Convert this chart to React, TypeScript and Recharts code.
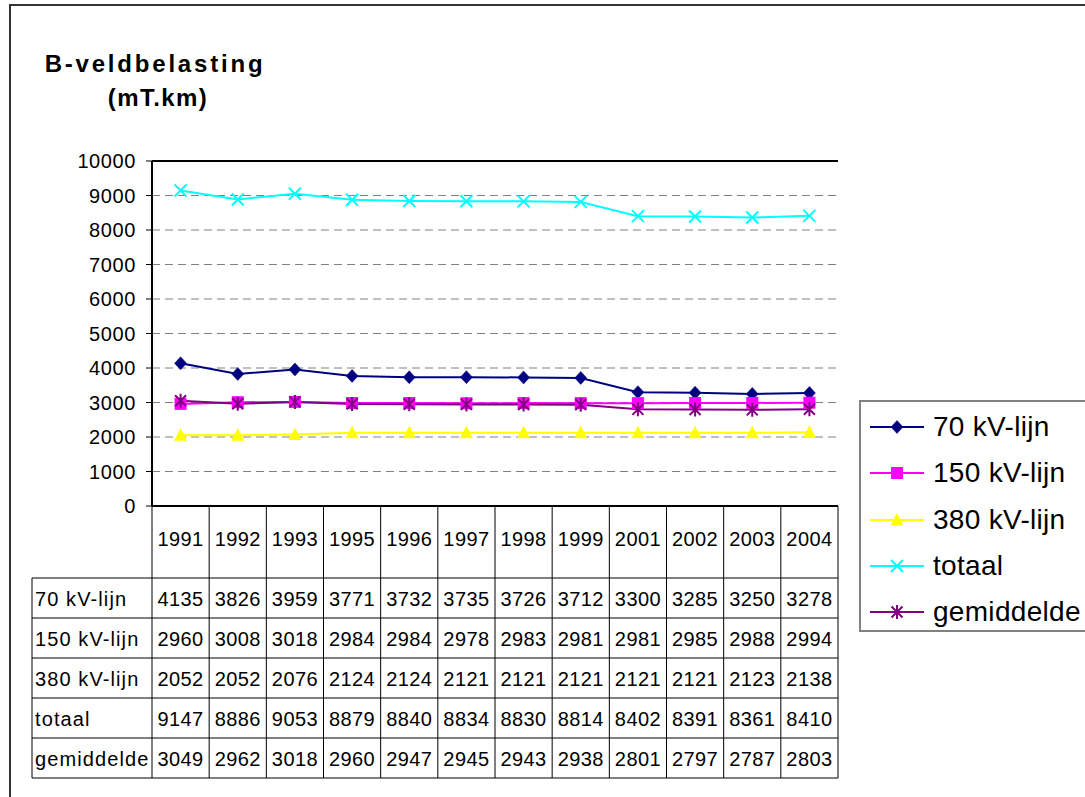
import React from 'react';
import { LineChart, Line, XAxis, YAxis, CartesianGrid, Legend, ReferenceLine } from 'recharts';

// ---------- data ----------
const years = ['1991', '1992', '1993', '1995', '1996', '1997', '1998', '1999', '2001', '2002', '2003', '2004'];
const kv70 = [4135, 3826, 3959, 3771, 3732, 3735, 3726, 3712, 3300, 3285, 3250, 3278];
const kv150 = [2960, 3008, 3018, 2984, 2984, 2978, 2983, 2981, 2981, 2985, 2988, 2994];
const kv380 = [2052, 2052, 2076, 2124, 2124, 2121, 2121, 2121, 2121, 2121, 2123, 2138];
const totaal = [9147, 8886, 9053, 8879, 8840, 8834, 8830, 8814, 8402, 8391, 8361, 8410];
const gemiddelde = [3049, 2962, 3018, 2960, 2947, 2945, 2943, 2938, 2801, 2797, 2787, 2803];
const yTicks = [0, 1000, 2000, 3000, 4000, 5000, 6000, 7000, 8000, 9000, 10000];

const seriesKeys = ['kv70', 'kv150', 'kv380', 'totaal', 'gemiddelde'];
const seriesNames = ['70 kV-lijn', '150 kV-lijn', '380 kV-lijn', 'totaal', 'gemiddelde'];
const seriesColors = ['#000080', '#FF00FF', '#FFFF00', '#00FFFF', '#800080'];
const seriesValues = [kv70, kv150, kv380, totaal, gemiddelde];

const titleLine1 = 'B-veldbelasting';
const titleLine2 = '(mT.km)';

const data = years.map((year, i) => {
  const row: any = { year };
  seriesKeys.forEach((k, s) => {
    row[k] = seriesValues[s][i];
  });
  return row;
});

// ---------- layout ----------
const W = 1085;
const H = 797;
const FONT = "'Liberation Sans', Arial, Helvetica, sans-serif";
const PLOT_LEFT = 152;
const PLOT_RIGHT = 838;
const PLOT_TOP = 161;
const PLOT_BOTTOM = 506;
const Y_AXIS_W = 60;
const COL_W = (PLOT_RIGHT - PLOT_LEFT) / years.length;
const HEADER_H = 72;
const ROW_H = 40;
const TABLE_LEFT = 32;
const TABLE_BOTTOM = PLOT_BOTTOM + HEADER_H + ROW_H * seriesKeys.length;

function marker(key: string, cx: number, cy: number, color: string) {
  switch (key) {
    case 'kv70':
      return <path d={`M${cx},${cy - 6.5}L${cx + 6},${cy}L${cx},${cy + 6.5}L${cx - 6},${cy}Z`} fill={color} stroke={color} strokeWidth={0.5} />;
    case 'kv150':
      return <rect x={cx - 6} y={cy - 6} width={12} height={12} fill={color} />;
    case 'kv380':
      return <path d={`M${cx},${cy - 7}L${cx + 6.5},${cy + 5.5}L${cx - 6.5},${cy + 5.5}Z`} fill={color} />;
    case 'totaal':
      return (
        <path d={`M${cx - 6},${cy - 6}L${cx + 6},${cy + 6}M${cx + 6},${cy - 6}L${cx - 6},${cy + 6}`} stroke={color} strokeWidth={2} fill="none" />
      );
    default:
      return (
        <path
          d={`M${cx},${cy - 7}L${cx},${cy + 7}M${cx - 5.5},${cy - 5.5}L${cx + 5.5},${cy + 5.5}M${cx + 5.5},${cy - 5.5}L${cx - 5.5},${cy + 5.5}`}
          stroke={color}
          strokeWidth={2}
          fill="none"
        />
      );
  }
}

function TableTick(props: any) {
  const { x, payload } = props;
  const i: number = payload && typeof payload.index === 'number' ? payload.index : props.index;
  const l = x - COL_W / 2;
  const r = x + COL_W / 2;
  const bodyTop = PLOT_BOTTOM + HEADER_H;
  const hLines: number[] = [];
  for (let k = 0; k <= seriesKeys.length; k++) hLines.push(bodyTop + k * ROW_H);
  const txt = { fontFamily: FONT, fontSize: 20, fill: '#000' } as any;
  return (
    <g>
      {i === 0 && <line x1={l} y1={PLOT_BOTTOM} x2={l} y2={TABLE_BOTTOM} stroke="#000" strokeWidth={1} />}
      <line x1={r} y1={PLOT_BOTTOM} x2={r} y2={TABLE_BOTTOM} stroke="#000" strokeWidth={1} />
      {hLines.map((y) => (
        <line key={`h${y}`} x1={l} y1={y} x2={r} y2={y} stroke="#000" strokeWidth={1} />
      ))}
      <text x={x} y={PLOT_BOTTOM + HEADER_H / 2 - 3} textAnchor="middle" dominantBaseline="central" {...txt} letterSpacing={0.4}>
        {payload.value}
      </text>
      {seriesValues.map((vals, s) => (
        <text key={`v${s}`} x={x} y={bodyTop + s * ROW_H + ROW_H / 2 + 1} textAnchor="middle" dominantBaseline="central" {...txt} letterSpacing={0.4}>
          {vals[i]}
        </text>
      ))}
      {i === 0 && (
        <g>
          <line x1={TABLE_LEFT} y1={bodyTop} x2={TABLE_LEFT} y2={TABLE_BOTTOM} stroke="#000" strokeWidth={1} />
          {hLines.map((y) => (
            <line key={`lh${y}`} x1={TABLE_LEFT} y1={y} x2={l} y2={y} stroke="#000" strokeWidth={1} />
          ))}
          {seriesNames.map((n, s) => (
            <text key={`n${s}`} x={TABLE_LEFT + 3} y={bodyTop + s * ROW_H + ROW_H / 2 + 1} textAnchor="start" dominantBaseline="central" {...txt} letterSpacing={1.1}>
              {n}
            </text>
          ))}
        </g>
      )}
    </g>
  );
}

function LegendBox(props: any) {
  const given: any[] = props.payload && props.payload.length ? props.payload : [];
  const payload = seriesKeys.map((k, s) => {
    const found = given.find((p: any) => String(p.dataKey) === k);
    return { dataKey: k, value: found ? found.value : seriesNames[s], color: seriesColors[s] };
  });
  return (
    <div
      style={{
        width: 240,
        height: 232,
        border: '2px solid #808080',
        boxSizing: 'border-box',
        background: '#fff',
        position: 'relative',
      }}
    >
      {payload.map((p: any, k: number) => {
        const key = String(p.dataKey);
        const color = p.color;
        return (
          <div
            key={key}
            style={{ position: 'absolute', left: 8, top: 25 + k * 46.25 - 20, height: 40, display: 'flex', alignItems: 'center' }}
          >
            <svg width={56} height={20} style={{ display: 'block' }}>
              <line x1={1} y1={10} x2={55} y2={10} stroke={color} strokeWidth={2} />
              {marker(key, 28, 10, color)}
            </svg>
            <span style={{ marginLeft: 8, fontSize: 28, letterSpacing: 0.3, fontFamily: FONT, color: '#000', whiteSpace: 'nowrap', lineHeight: '40px' }}>{p.value}</span>
          </div>
        );
      })}
    </div>
  );
}

export default function App() {
  return (
    <div style={{ position: 'absolute', left: 0, top: 0, width: W, height: H, overflow: 'hidden', background: '#fff' }}>
      <div
        style={{
          position: 'absolute',
          left: 9,
          top: 4,
          width: 1200,
          height: 900,
          border: '2px solid #333',
          boxSizing: 'border-box',
        }}
      />
      <div style={{ position: 'absolute', left: 0, top: 0 }}>
        <LineChart
          width={W}
          height={H}
          data={data}
          margin={{ top: PLOT_TOP, left: PLOT_LEFT - Y_AXIS_W, right: W - PLOT_RIGHT, bottom: H - TABLE_BOTTOM }}
        >
          <CartesianGrid vertical={false} stroke="#808080" strokeDasharray="8 5" />
          <XAxis
            dataKey="year"
            interval={0}
            height={TABLE_BOTTOM - PLOT_BOTTOM}
            padding={{ left: COL_W / 2, right: COL_W / 2 }}
            tickLine={false}
            axisLine={{ stroke: '#000', strokeWidth: 2 }}
            tick={<TableTick />}
          />
          <YAxis
            width={Y_AXIS_W}
            domain={[0, 10000]}
            ticks={yTicks}
            interval={0}
            tickSize={6}
            tickMargin={10}
            axisLine={{ stroke: '#000', strokeWidth: 2 }}
            tickLine={{ stroke: '#000', strokeWidth: 1 }}
            tick={{ fontFamily: FONT, fontSize: 20, fill: '#000', letterSpacing: 0.6 } as any}
          />
          <YAxis
            yAxisId="right"
            orientation="right"
            width={0}
            domain={[0, 10000]}
            tick={false}
            tickLine={false}
            axisLine={{ stroke: '#000', strokeWidth: 2 }}
          />
          <ReferenceLine y={10000} stroke="#000" strokeWidth={2} />
          {seriesKeys.map((k, s) => (
            <Line
              key={k}
              dataKey={k}
              name={seriesNames[s]}
              stroke={seriesColors[s]}
              strokeWidth={2}
              isAnimationActive={false}
              activeDot={false}
              dot={(p: any) => <g key={`d-${k}-${p.index}`}>{marker(k, p.cx, p.cy, seriesColors[s])}</g>}
            />
          ))}
          <Legend
            layout="vertical"
            align="center"
            verticalAlign="middle"
            wrapperStyle={{ position: 'absolute', left: 859, top: 400, width: 240, height: 232 }}
            content={(p: any) => <LegendBox payload={p.payload} />}
          />
        </LineChart>
      </div>
      <svg width={W} height={130} style={{ position: 'absolute', left: 0, top: 0, pointerEvents: 'none' }}>
        <text x={155} y={72} textAnchor="middle" fontFamily={FONT} fontWeight="bold" fontSize={24} letterSpacing={2.8} fill="#000">
          {titleLine1}
        </text>
        <text x={158} y={106} textAnchor="middle" fontFamily={FONT} fontWeight="bold" fontSize={24} letterSpacing={1.4} fill="#000">
          {titleLine2}
        </text>
      </svg>
    </div>
  );
}
